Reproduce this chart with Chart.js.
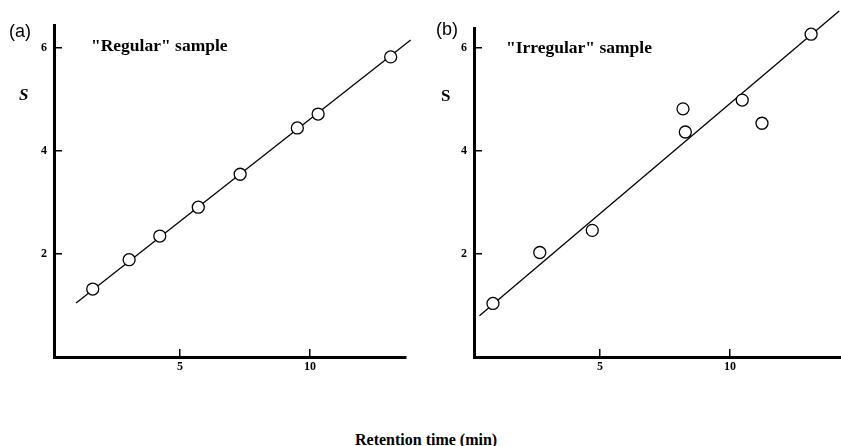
<!DOCTYPE html>
<html>
<head>
<meta charset="utf-8">
<script src="https://cdn.jsdelivr.net/npm/chart.js@4/dist/chart.umd.min.js"></script>
<style>
body {margin:0; background:#fff; width:841px; height:446px; position:relative; overflow:hidden;}
.pane {position:absolute; top:0; height:400px;}
.lbl {position:absolute; white-space:nowrap; color:#000; line-height:1;}
.serif {font-family:"Liberation Serif","Times New Roman",serif; font-weight:bold;}
.sans {font-family:"Liberation Sans",Arial,sans-serif;}
</style>
</head>
<body>
<div class="pane" style="left:0;width:420px;"><canvas id="chartA"></canvas></div>
<div class="pane" style="left:420px;width:421px;"><canvas id="chartB"></canvas></div>

<div class="lbl sans" style="left:9px;top:22px;font-size:18px;">(a)</div>
<div class="lbl sans" style="left:436px;top:20px;font-size:18px;">(b)</div>
<div class="lbl serif" style="left:91px;top:37px;font-size:17.5px;">"Regular" sample</div>
<div class="lbl serif" style="left:506px;top:39px;font-size:17.5px;">"Irregular" sample</div>
<div class="lbl serif" style="left:19px;top:86px;font-size:17px;font-style:italic;">S</div>
<div class="lbl serif" style="left:441px;top:87px;font-size:17px;">S</div>
<div class="lbl serif" style="left:355px;top:432px;font-size:16px;">Retention time (min)</div>

<script>
// tick labels
var xTicks = [5, 10];
var yTicks = [2, 4, 6];

// (a) "Regular" sample: retention time (min) vs S
var regTime = [1.64, 3.04, 4.22, 5.70, 7.31, 9.51, 10.31, 13.10];
var regS    = [1.32, 1.89, 2.35, 2.91, 3.55, 4.45, 4.72, 5.83];
var regFitTime = [1.0, 13.87];
var regFitS    = [1.05, 6.16];

// (b) "Irregular" sample
var irrTime = [0.88, 2.68, 4.70, 8.19, 8.28, 10.47, 11.23, 13.12];
var irrS    = [1.04, 2.03, 2.46, 4.82, 4.37, 4.99, 4.54, 6.27];
var irrFitTime = [0.36, 14.2];
var irrFitS    = [0.80, 6.72];

function pairs(xs, ys) {
  var out = [];
  for (var i = 0; i < xs.length; i++) out.push({x: xs[i], y: ys[i]});
  return out;
}

function makeChart(id, pts, fit, xMax, yMax, padTop, padRight) {
  var tickFont = {family: '"Liberation Serif", "Times New Roman", serif', weight: 'bold', size: 12};
  // negative tickLength -> short tick marks pointing into the plot
  var inGrid = {display: true, drawOnChartArea: false, drawTicks: true, tickLength: -8, color: '#000', lineWidth: 1.5};
  return new Chart(document.getElementById(id), {
    type: 'scatter',
    data: {
      datasets: [
        {
          data: fit, showLine: true, borderColor: '#000', borderWidth: 1.3,
          pointRadius: 0, clip: false, order: 2
        },
        {
          data: pts, pointRadius: 6, pointBorderWidth: 1.3,
          pointBorderColor: '#000', pointBackgroundColor: '#fff', order: 1, clip: false
        }
      ]
    },
    options: {
      responsive: true,
      maintainAspectRatio: false,
      animation: false,
      layout: {autoPadding: false, padding: {top: padTop, right: padRight, left: 0, bottom: 0}},
      plugins: {legend: {display: false}, tooltip: {enabled: false}},
      scales: {
        x: {
          type: 'linear', min: 0.15, max: xMax,
          afterBuildTicks: function(s) { s.ticks = xTicks.map(function(v) { return {value: v}; }); },
          afterFit: function(s) { s.height = 43; },
          grid: inGrid,
          border: {display: true, color: '#000', width: 3},
          ticks: {color: '#000', font: tickFont, padding: 11, maxRotation: 0}
        },
        y: {
          type: 'linear', min: 0, max: yMax,
          afterBuildTicks: function(s) { s.ticks = yTicks.map(function(v) { return {value: v}; }); },
          afterFit: function(s) { s.width = 54; },
          grid: inGrid,
          border: {display: true, color: '#000', width: 3},
          ticks: {color: '#000', font: tickFont, padding: 15}
        }
      }
    }
  });
}

makeChart('chartA', pairs(regTime, regS), pairs(regFitTime, regFitS), 13.69, 6.45, 25, 14);
makeChart('chartB', pairs(irrTime, irrS), pairs(irrFitTime, irrFitS), 14.27, 6.39, 28, 0);
</script>
</body>
</html>
